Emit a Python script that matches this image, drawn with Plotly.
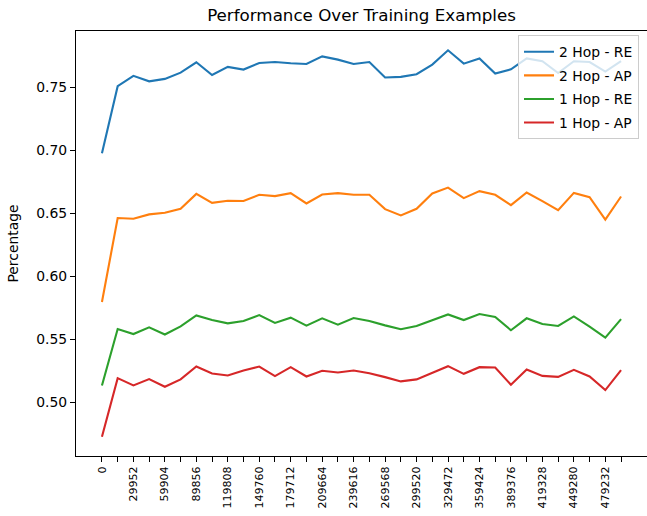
import plotly.graph_objects as go

# Data
examples = [i * 14976 for i in range(34)]
tick_labels = [str(v) if k % 2 == 0 else "" for k, v in enumerate(examples)]

hop2_re = [0.6975, 0.7508, 0.7590, 0.7547, 0.7566, 0.7616, 0.7698, 0.7597, 0.7661, 0.7640,
           0.7692, 0.7700, 0.7690, 0.7684, 0.7745, 0.7719, 0.7684, 0.7700, 0.7577, 0.7582,
           0.7603, 0.7680, 0.7793, 0.7687, 0.7729, 0.7608, 0.7642, 0.7729, 0.7706, 0.7613,
           0.7706, 0.7700, 0.7624, 0.7708]
hop2_ap = [0.5794, 0.6461, 0.6456, 0.6490, 0.6503, 0.6535, 0.6653, 0.6582, 0.6598, 0.6596,
           0.6646, 0.6635, 0.6659, 0.6577, 0.6648, 0.6659, 0.6646, 0.6646, 0.6532, 0.6482,
           0.6535, 0.6656, 0.6703, 0.6619, 0.6675, 0.6646, 0.6564, 0.6664, 0.6596, 0.6524,
           0.6661, 0.6627, 0.6448, 0.6632]
hop1_re = [0.5132, 0.5580, 0.5540, 0.5593, 0.5536, 0.5601, 0.5688, 0.5651, 0.5625, 0.5643,
           0.5691, 0.5628, 0.5670, 0.5607, 0.5665, 0.5615, 0.5667, 0.5643, 0.5609, 0.5578,
           0.5604, 0.5649, 0.5696, 0.5651, 0.5699, 0.5675, 0.5570, 0.5665, 0.5620, 0.5604,
           0.5680, 0.5599, 0.5512, 0.5659]
hop1_ap = [0.4725, 0.5190, 0.5132, 0.5182, 0.5121, 0.5180, 0.5282, 0.5227, 0.5211, 0.5251,
           0.5282, 0.5206, 0.5277, 0.5203, 0.5248, 0.5235, 0.5251, 0.5229, 0.5198, 0.5164,
           0.5180, 0.5235, 0.5285, 0.5224, 0.5277, 0.5274, 0.5137, 0.5259, 0.5208, 0.5200,
           0.5256, 0.5203, 0.5095, 0.5253]

series = [
    ("2 Hop - RE", hop2_re, "#1f77b4"),
    ("2 Hop - AP", hop2_ap, "#ff7f0e"),
    ("1 Hop - RE", hop1_re, "#2ca02c"),
    ("1 Hop - AP", hop1_ap, "#d62728"),
]

font = "DejaVu Sans"
fig = go.Figure()
for name, vals, color in series:
    fig.add_trace(go.Scatter(x=examples, y=vals, mode="lines", name=name,
                             legendgroup=name,
                             line=dict(color=color, width=2.1)))

xmin, xmax = examples[0], examples[-1]
xpad = (xmax - xmin) * 0.05
allv = hop2_re + hop2_ap + hop1_re + hop1_ap
ymin, ymax = min(allv), max(allv)
ypad = (ymax - ymin) * 0.05

fig.update_layout(
    width=647, height=516,
    margin=dict(l=76, r=0, t=31, b=60, autoexpand=False),
    paper_bgcolor="white", plot_bgcolor="white",
    font=dict(family=font, size=14, color="black"),
    title=dict(text="Performance Over Training Examples", x=0.5, xref="paper",
               y=1 - 15 / 516, yref="container", yanchor="middle", automargin=False,
               font=dict(family=font, size=16.7, color="black")),
    showlegend=True,
    legend=dict(x=0.986, y=0.99, xanchor="right", yanchor="top",
                bgcolor="rgba(255,255,255,0.8)", bordercolor="#cccccc", borderwidth=1,
                font=dict(family=font, size=13.9), tracegroupgap=2.5),
    xaxis=dict(range=[xmin - xpad, xmax + xpad], tickmode="array",
               tickvals=examples, ticktext=tick_labels, tickangle=-90,
               tickfont=dict(family=font, size=11, color="black"),
               ticks="outside", ticklen=5, tickwidth=1.1, tickcolor="black",
               showline=True, linecolor="black", linewidth=1.1, mirror=True,
               showgrid=False, zeroline=False, automargin=False),
    yaxis=dict(range=[ymin - ypad, ymax + ypad], tickmode="array",
               tickvals=[0.50, 0.55, 0.60, 0.65, 0.70, 0.75],
               ticktext=["0.50", "0.55", "0.60", "0.65", "0.70", "0.75"],
               tickfont=dict(family=font, size=13.9, color="black"),
               ticks="outside", ticklen=5, tickwidth=1.1, tickcolor="black",
               showline=True, linecolor="black", linewidth=1.1, mirror=False,
               showgrid=False, zeroline=False, automargin=False,
               title=dict(text="Percentage", standoff=14,
                          font=dict(family=font, size=13.9, color="black"))),
)

fig.write_html("out.html", config={"displayModeBar": False},
               post_script="document.body.style.margin='0px';document.body.style.overflow='hidden';")
